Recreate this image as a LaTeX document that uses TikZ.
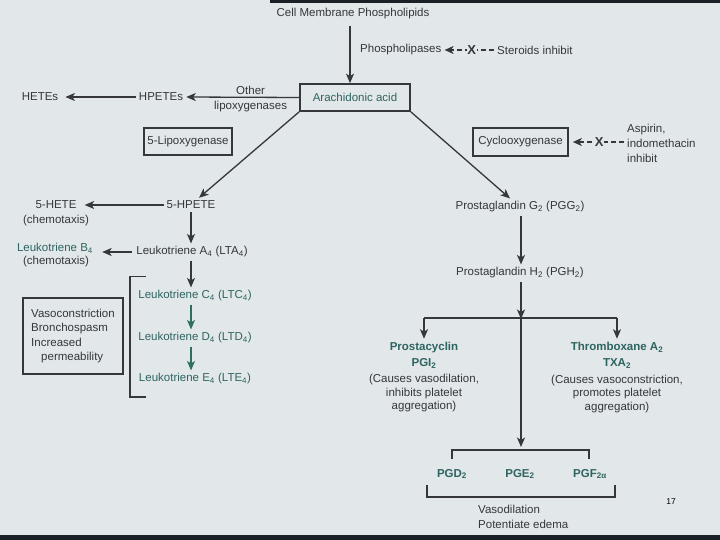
\documentclass[tikz,border=0pt]{standalone}
\usepackage{fontspec}
\setmainfont{Liberation Sans}
\usetikzlibrary{arrows.meta}
\definecolor{bg}{HTML}{E2E7E9}
\definecolor{ink}{HTML}{35373A}
\definecolor{tealc}{HTML}{2E6461}
\definecolor{grn}{HTML}{2F6F60}
\definecolor{dark}{HTML}{1B2026}
\begin{document}
\begin{tikzpicture}[x=1pt,y=-1pt,
  every node/.style={font=\fontsize{11.5}{14}\selectfont, text=ink, inner sep=3pt},
  box/.style={draw=ink, line width=1.7pt, inner sep=0pt},
  arr/.style={draw=ink, line width=1.3pt, -{Stealth[length=9.5pt,width=8pt,inset=2.5pt]}},
  garr/.style={draw=grn, line width=1.3pt, -{Stealth[length=9.5pt,width=8pt,inset=2.5pt]}},
  inh/.style={draw=ink, line width=1.3pt, dash pattern=on 5pt off 3pt, -{Stealth[length=9pt,width=8pt,inset=2.5pt]}},
  xmark/.style={fill=bg, inner sep=0.5pt, font=\fontsize{13}{14}\selectfont\bfseries},
  lin/.style={draw=ink, line width=1.3pt},
  tl/.style={text=tealc},
  bt/.style={text=tealc, font=\fontsize{11.5}{16}\selectfont\bfseries}]
% background
\fill[bg] (0,0) rectangle (720,540);
\fill[dark] (270,0) rectangle (720,3);
\fill[dark] (0,535) rectangle (720,540);
\useasboundingbox (0,0) rectangle (720,540);

% top
\node (cmp) at (353,14) {Cell Membrane Phospholipids};
\node[anchor=west] (phl) at (357,50) {Phospholipases};
\node[anchor=west] (ster) at (494,50) {Steroids inhibit};
\node[box, tl, minimum width=110pt, minimum height=27pt] (aa) at (355,97.5) {Arachidonic acid};
\draw[arr] ([xshift=-3pt,yshift=-3pt]cmp.south) -- ([xshift=-3pt]cmp.south |- aa.north);
\draw[inh] (ster.west) -- (phl.east) node[xmark, pos=0.45] {X};

% lipoxygenase side top
\node (hpetes) at (161,97) {HPETEs};
\node (hetes) at (40,97) {HETEs};
\draw[arr] (aa.west) -- (hpetes.east)
  node[pos=0.43, above, inner sep=2pt] {Other}
  node[pos=0.43, below, inner sep=3pt] {lipoxygenases};
\draw[arr, shorten >=4pt] (hpetes.west) -- (hetes.east);
\node[box, minimum width=88pt, minimum height=27pt] (lox) at (188,141.5) {5-Lipoxygenase};

% cyclooxygenase
\node[box, minimum width=95pt, minimum height=28pt] (cox) at (520.5,142) {Cyclooxygenase};
\node[anchor=west, align=left, font=\fontsize{11.5}{15}\selectfont] (asp) at (624,143) {Aspirin,\\indomethacin\\inhibit};
\draw[inh, shorten >=4pt] (cox.east -| asp.west) -- (cox.east) node[xmark, pos=0.45] {X};

% left branch
\node (hpete5) at (191,205) {5-HPETE};
\node (hete5) at (56,205) {5-HETE};
\node (chemo1) at (56,221) {(chemotaxis)};
\draw[arr] (aa.south west) -- ([xshift=8pt]hpete5.north);
\draw[arr, shorten >=5pt] (hpete5.west) -- (hete5.east);

\node (lta) at (192,252) {Leukotriene A\textsubscript{4} (LTA\textsubscript{4})};
\node[tl] (ltb) at (55,248) {Leukotriene B\textsubscript{4}};
\node (chemo2) at (56,262) {(chemotaxis)};
\draw[arr] (hpete5.south) -- (hpete5.south |- lta.north);
\draw[arr, shorten >=6pt] ([xshift=-1pt]lta.west) -- (lta.west -| ltb.east);

\node[tl] (ltc) at (195,296) {Leukotriene C\textsubscript{4} (LTC\textsubscript{4})};
\node[tl] (ltd) at (195,338) {Leukotriene D\textsubscript{4} (LTD\textsubscript{4})};
\node[tl] (lte) at (195,379) {Leukotriene E\textsubscript{4} (LTE\textsubscript{4})};
\draw[arr] (lta.south -| hpete5.south) -- (ltc.north -| hpete5.south);
\draw[garr] (ltc.south -| hpete5.south) -- (ltd.north -| hpete5.south);
\draw[garr] (ltd.south -| hpete5.south) -- (lte.north -| hpete5.south);
\draw[lin] (146,276.5) -- (130,276.5) -- (130,397) -- (146,397);

\node[box, align=left, minimum width=100pt, minimum height=76pt, font=\fontsize{11.5}{14.5}\selectfont] (vaso) at (73,336)
  {Vasoconstriction\\Bronchospasm\\Increased\\\hspace*{10pt}permeability};

% right branch
\node (pgg) at (520,207) {Prostaglandin G\textsubscript{2} (PGG\textsubscript{2})};
\node (pgh) at (520,273) {Prostaglandin H\textsubscript{2} (PGH\textsubscript{2})};
\draw[arr] (aa.south east) -- ([xshift=-10pt]pgg.north);
\draw[arr] ([xshift=1pt]pgg.south) -- ([xshift=1pt]pgg.south |- pgh.north);
\coordinate (split) at (521,318);
\draw[arr] ([xshift=1pt]pgh.south) -- ([yshift=-1pt]split);

\node[bt, align=center] (pcy) at (424,355) {Prostacyclin\\PGI\textsubscript{2}};
\node[align=center, font=\fontsize{11.5}{13.5}\selectfont] (pcyd) at (424,393.5) {(Causes vasodilation,\\inhibits platelet\\aggregation)};
\node[bt, align=center] (txa) at (617,355) {Thromboxane A\textsubscript{2}\\TXA\textsubscript{2}};
\node[align=center, font=\fontsize{11.5}{13.5}\selectfont] (txad) at (617,394) {(Causes vasoconstriction,\\promotes platelet\\aggregation)};
\draw[lin] (split -| pcy) -- (split -| txa);
\draw[arr] (split -| pcy) -- (pcy.north);
\draw[arr] (split -| txa) -- (txa.north);

\node[bt] (pgd) at (452,474) {PGD\textsubscript{2}};
\node[bt] (pge) at (520,474) {PGE\textsubscript{2}};
\node[bt] (pgf) at (590,474) {PGF\textsubscript{2α}};
\coordinate (pgtop) at (521,447);
\draw[arr] (split) -- (pgtop);
\draw[lin] (452,459) -- (452,450) -- (589,450) -- (589,459);
\draw[lin] (427,485) -- (427,497) -- (615,497) -- (615,485);
\node[anchor=west, align=left, font=\fontsize{11.5}{15}\selectfont] (vd) at (475,516.5) {Vasodilation\\Potentiate edema};
\node[text=black, font=\fontsize{8.5}{10}\selectfont] (pnum) at (671,502) {17};
\end{tikzpicture}
\end{document}
